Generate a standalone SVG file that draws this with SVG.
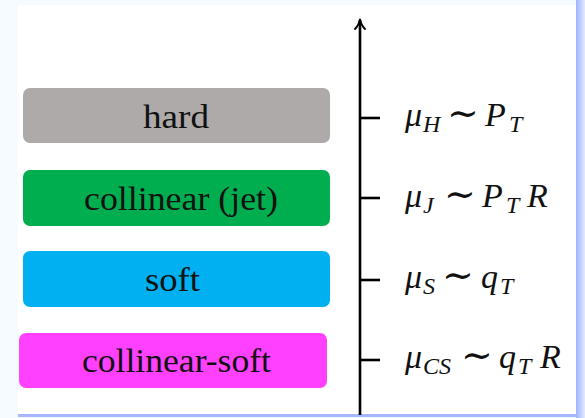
<svg xmlns="http://www.w3.org/2000/svg" width="585" height="418" viewBox="0 0 585 418">
<defs>
<linearGradient id="edge" x1="0" y1="0" x2="1" y2="0">
<stop offset="0" stop-color="#9fb2ff"/>
<stop offset="1" stop-color="#e4ebff"/>
</linearGradient>
<marker id="arr" viewBox="0 0 12 12" refX="10" refY="6" markerWidth="12" markerHeight="12" markerUnits="userSpaceOnUse" orient="auto">
<path d="M1,1 Q5,5 11,6 Q5,7 1,11" fill="none" stroke="#000" stroke-width="1.8" stroke-linecap="round"/>
</marker>
</defs>
<style>
.box{rx:7px;ry:7px}
.lbl{font-family:"Liberation Serif","DejaVu Serif",serif;font-size:33px;fill:#111}
.m{font-family:"Liberation Serif","DejaVu Serif",serif;font-size:34px;font-style:italic;fill:#111}
.s{font-size:24px}
.n{font-style:normal;font-size:38px}
.ax{stroke:#000;stroke-width:2.6;fill:none}
</style>
<rect width="585" height="418" fill="#f6fbff"/>
<rect x="18" y="5" width="558" height="409" fill="#fff"/>
<rect x="576" y="0" width="9" height="418" fill="url(#edge)"/>
<rect x="18" y="414" width="558" height="3" fill="#a5b6ff"/>
<g id="hard">
<rect class="box" x="23" y="88" width="307" height="55" fill="#aeaaa9"/>
<text class="lbl" x="143" y="128" textLength="66" lengthAdjust="spacingAndGlyphs">hard</text>
</g>
<g id="collinear-jet">
<rect class="box" x="23" y="170" width="307" height="56" fill="#00ae4f"/>
<text class="lbl" x="84" y="210" textLength="194" lengthAdjust="spacingAndGlyphs">collinear (jet)</text>
</g>
<g id="soft">
<rect class="box" x="23" y="251" width="307" height="56" fill="#00b0f0"/>
<text class="lbl" x="145" y="291" textLength="55" lengthAdjust="spacingAndGlyphs">soft</text>
</g>
<g id="collinear-soft">
<rect class="box" x="19" y="333" width="308" height="55" fill="#ff40ff"/>
<text class="lbl" x="82" y="372" textLength="189" lengthAdjust="spacingAndGlyphs">collinear-soft</text>
</g>
<g id="connectors">
<line class="ax" x1="360" y1="415" x2="360" y2="20" marker-end="url(#arr)"/>
<line class="ax" x1="360" y1="118" x2="380" y2="118"/>
<line class="ax" x1="360" y1="198" x2="380" y2="198"/>
<line class="ax" x1="360" y1="280" x2="380" y2="280"/>
<line class="ax" x1="360" y1="360" x2="380" y2="360"/>
</g>
<g id="scale-H">
<text class="m" y="126"><tspan x="405">μ</tspan><tspan class="s" x="423" y="132">H</tspan><tspan class="n" x="447" y="126">∼</tspan><tspan x="485">P</tspan><tspan class="s" x="509" y="132">T</tspan></text>
</g>
<g id="scale-J">
<text class="m" y="207"><tspan x="405">μ</tspan><tspan class="s" x="423" y="213">J</tspan><tspan class="n" x="444" y="207">∼</tspan><tspan x="482">P</tspan><tspan class="s" x="506" y="213">T</tspan><tspan x="527" y="207">R</tspan></text>
</g>
<g id="scale-S">
<text class="m" y="288"><tspan x="405">μ</tspan><tspan class="s" x="423" y="294">S</tspan><tspan class="n" x="442" y="288">∼</tspan><tspan x="481">q</tspan><tspan class="s" x="500" y="294">T</tspan></text>
</g>
<g id="scale-CS">
<text class="m" y="368"><tspan x="405">μ</tspan><tspan class="s" x="423" y="374">CS</tspan><tspan class="n" x="461" y="368">∼</tspan><tspan x="499">q</tspan><tspan class="s" x="518" y="374">T</tspan><tspan x="540" y="368">R</tspan></text>
</g>
</svg>
